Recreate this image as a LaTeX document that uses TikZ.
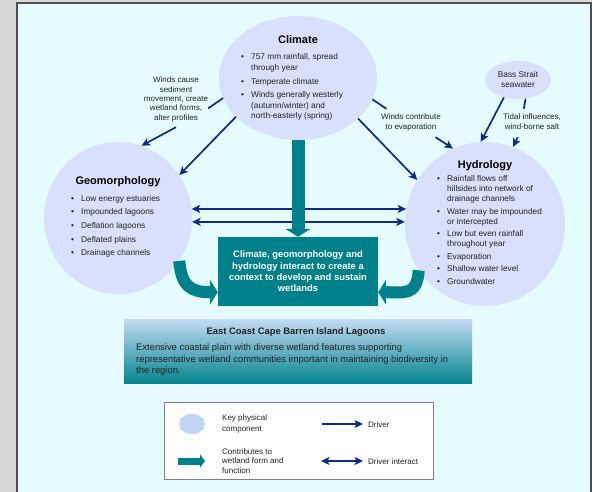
\documentclass[tikz,border=0pt]{standalone}
\usepackage{fontspec}
\setmainfont{Liberation Sans}
\usepackage{tikz}
\usetikzlibrary{arrows.meta,shapes.geometric,calc}

\definecolor{outerbg}{HTML}{D8D8D8}
\definecolor{panelbg}{HTML}{E5FBFD}
\definecolor{panelline}{HTML}{505050}
\definecolor{compblue}{HTML}{D8E0FB}
\definecolor{keyblue}{HTML}{C3D3F6}
\definecolor{drivenavy}{HTML}{0C2C8C}
\definecolor{formteal}{HTML}{00808A}
\definecolor{gradtop}{HTML}{C4DCF5}
\definecolor{gradbot}{HTML}{05848E}
\definecolor{txtdark}{HTML}{222222}

\newcommand{\bul}{\makebox[10pt][l]{\textbullet}}

\tikzset{
	drvtip/.tip={Stealth[length=8.5pt,width=8pt,inset=2pt]},
	comp/.style={ellipse,fill=compblue,inner sep=0pt},
	ttl/.style={font=\bfseries\fontsize{11}{13}\selectfont,anchor=base,inner sep=0pt},
	lst/.style={font=\fontsize{8.3}{10}\selectfont,text=txtdark,anchor=base west,inner sep=0pt},
	lbl/.style={font=\fontsize{8}{9.3}\selectfont,text=txtdark,anchor=base,inner xsep=0pt,inner ysep=4pt},
	drvline/.style={draw=drivenavy,line width=1.7pt},
	drv/.style={drvline,-drvtip},
	drvboth/.style={drvline,drvtip-drvtip},
	form/.style={draw=formteal,line width=13pt,-{Triangle[length=8pt,width=25pt]}},
	keytxt/.style={font=\fontsize{8}{11.5}\selectfont,text=txtdark,anchor=base west,inner sep=0pt}
}

\begin{document}
\begin{tikzpicture}[x=1pt,y=-1pt]
	\useasboundingbox (0,0) rectangle (592,492);
	\fill[outerbg] (0,0) rectangle (592,492);
	\fill[panelbg] (17,3) rectangle (591,492);
	\draw[panelline,line width=1.2pt] (17,492) |- (591,3) -- (591,492);

	% key physical components
	\node[comp,minimum width=158pt,minimum height=124pt] (climate) at (298,78) {};
	\node[comp,minimum width=148pt,minimum height=152pt] (geomorph) at (118,218) {};
	\node[comp,minimum width=160pt,minimum height=164pt] (hydrology) at (485,224) {};
	\node[comp,minimum width=66pt,minimum height=38pt,align=center,text=txtdark,
		font=\fontsize{8.3}{10}\selectfont] (bass) at (518,80) {Bass Strait\\seawater};

	\node[ttl] (climttl) at (298,44) {Climate};
	\node[lst,font=\fontsize{8.3}{10.8}\selectfont] (climlist) at (241,60) {%
		\begin{tabular}[t]{@{}l@{}l@{}}
			\bul & 757 mm rainfall, spread \\
			     & through year \\[2.5pt]
			\bul & Temperate climate \\[2.5pt]
			\bul & Winds generally westerly \\
			     & (autumn/winter) and \\
			     & north-easterly (spring)
		\end{tabular}};

	\node[ttl] (geottl) at (118,185) {Geomorphology};
	\node[lst] (geolist) at (71,201) {%
		\begin{tabular}[t]{@{}l@{}l@{}}
			\bul & Low energy estuaries \\[3.7pt]
			\bul & Impounded lagoons \\[3.7pt]
			\bul & Deflation lagoons \\[3.7pt]
			\bul & Deflated plains \\[3.7pt]
			\bul & Drainage channels
		\end{tabular}};

	\node[ttl] (hydttl) at (485,169) {Hydrology};
	\node[lst] (hydlist) at (437,182) {%
		\begin{tabular}[t]{@{}l@{}l@{}}
			\bul & Rainfall flows off \\
			     & hillsides into network of \\
			     & drainage channels \\[2.5pt]
			\bul & Water may be impounded \\
			     & or intercepted \\[2.5pt]
			\bul & Low but even rainfall \\
			     & throughout year \\[2.5pt]
			\bul & Evaporation \\[2.5pt]
			\bul & Shallow water level \\[2.5pt]
			\bul & Groundwater
		\end{tabular}};

	% driver labels
	\node[lbl] (lblsed) at (176,83) {\begin{tabular}[t]{@{}c@{}}Winds cause\\sediment\\movement, create\\wetland forms,\\alter profiles\end{tabular}};
	\node[lbl,font=\fontsize{8}{10}\selectfont] (lblevap) at (411,120) {\begin{tabular}[t]{@{}c@{}}Winds contribute\\to evaporation\end{tabular}};
	\node[lbl,font=\fontsize{8}{10}\selectfont] (lbltide) at (532,120) {\begin{tabular}[t]{@{}c@{}}Tidal influences,\\wind-borne salt\end{tabular}};

	% wetland context
	\node[fill=formteal,minimum width=160pt,minimum height=69pt,inner sep=0pt,align=center,
		text=white,font=\bfseries\fontsize{9.4}{11.3}\selectfont] (context) at (298,271.5)
		{Climate, geomorphology and\\hydrology interact to create a\\context to develop and sustain\\wetlands};

	% drivers
	\draw[drvline] (climate.195) -- (lblsed.-15);
	\draw[drv] (lblsed.south) -- (geomorph.72);
	\draw[drv] (climate.212) -- (geomorph.35);
	\draw[drv] (climate.-34) -- (hydrology.147);
	\draw[drvline] (climate.-16) -- (lblevap.150);
	\draw[drv] (lblevap.-30) -- (hydrology.113);
	\draw[drv] (bass.231) -- (hydrology.93);
	\draw[drvline] (bass.-68) -- (lbltide.120);
	\draw[drv] (lbltide.-135) -- (hydrology.70);
	\draw[drvboth] (geomorph.7) -- (geomorph.7 -| hydrology.169);
	\draw[drvboth] (geomorph.-3) -- (geomorph.-3 -| hydrology.179);

	% contributions to wetland form and function
	\coordinate (ltip) at ($(context.south west)+(0,-14)$);
	\coordinate (rtip) at ($(context.south east)+(0,-14)$);
	\draw[form] (climate.south) -- (context.north);
	\draw[form,line width=12pt] (geomorph.-35) .. controls +(2,26) and +(-26,0) .. (ltip);
	\draw[form,line width=12pt] (hydrology.215) .. controls +(-2,26) and +(26,0) .. (rtip);

	% lagoon summary
	\node[minimum width=348pt,minimum height=64pt,inner sep=0pt,
		top color=gradtop,bottom color=gradbot] (lagoons) at (298,351) {};
	\node[font=\bfseries\fontsize{9.4}{11}\selectfont,text=txtdark,anchor=base,inner sep=0pt]
		(lagoonttl) at (296,334.5) {East Coast Cape Barren Island Lagoons};
	\node[font=\fontsize{9.4}{11.7}\selectfont,text=txtdark,anchor=base west,inner sep=0pt]
		(lagoontxt) at (136,350.5) {%
		\begin{tabular}[t]{@{}l@{}}
			Extensive coastal plain with diverse wetland features supporting \\
			representative wetland communities important in maintaining biodiversity in \\
			the region.
		\end{tabular}};

	% legend
	\node[draw=black!50,fill=white,line width=0.8pt,minimum width=269pt,minimum height=77pt,inner sep=0pt]
		(legend) at (298.5,440.5) {};
	\node[ellipse,fill=keyblue,minimum width=26pt,minimum height=20pt,inner sep=0pt] (keycomp) at (192,424) {};
	\node[keytxt] (keycomptxt) at (222,420) {\begin{tabular}[t]{@{}l@{}}Key physical\\component\end{tabular}};
	\coordinate (keyformA) at (178,461);
	\coordinate (keyformB) at (205,461);
	\draw[form,line width=7pt,-{Triangle[length=5pt,width=13pt]}] (keyformA) -- (keyformB);
	\node[keytxt,font=\fontsize{8}{9.8}\selectfont] (keyformtxt) at (222,454)
		{\begin{tabular}[t]{@{}l@{}}Contributes to\\wetland form and\\function\end{tabular}};
	\coordinate (keydrvA) at (322,424);
	\coordinate (keydrvB) at (363,424);
	\draw[drv] (keydrvA) -- (keydrvB);
	\node[keytxt] (keydrvtxt) at (368,427) {Driver};
	\coordinate (keybothA) at (321,461);
	\coordinate (keybothB) at (363,461);
	\draw[drvboth] (keybothA) -- (keybothB);
	\node[keytxt] (keybothtxt) at (368,464) {Driver interact};
\end{tikzpicture}
\end{document}
